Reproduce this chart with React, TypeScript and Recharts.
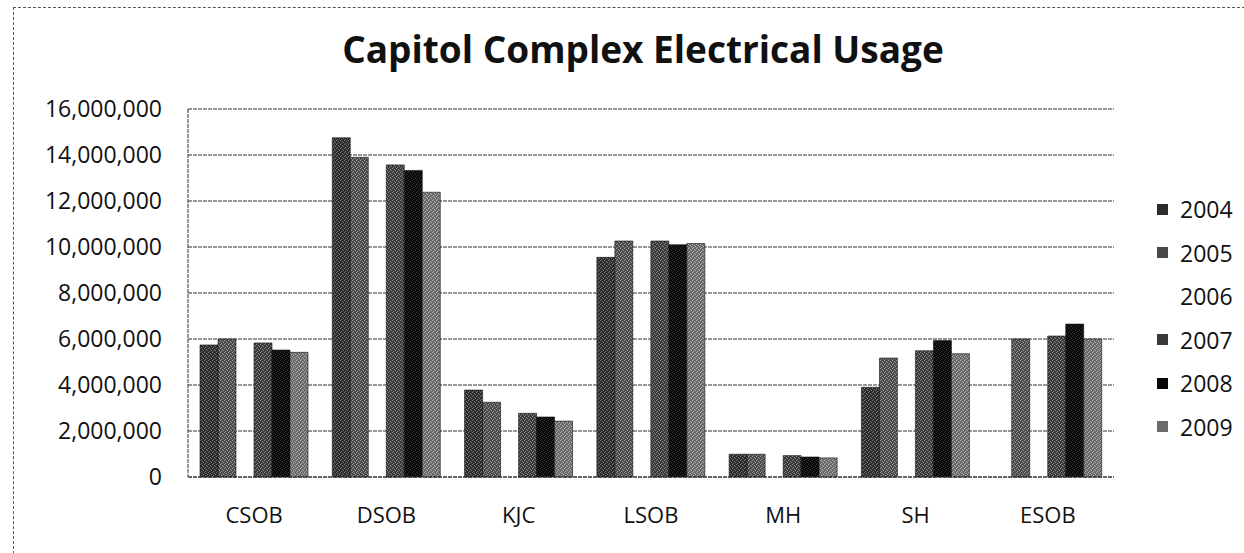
import { Bar, BarChart, CartesianGrid, XAxis, YAxis } from "recharts"

const buildings = ["CSOB", "DSOB", "KJC", "LSOB", "MH", "SH", "ESOB"]

const usage2004 = [5740000, 14750000, 3780000, 9550000, 990000, 3900000, null]
const usage2005 = [6000000, 13900000, 3250000, 10260000, 990000, 5170000, 6000000]
const usage2006 = [null, null, null, null, null, null, null]
const usage2007 = [5830000, 13570000, 2770000, 10260000, 930000, 5490000, 6130000]
const usage2008 = [5520000, 13330000, 2610000, 10100000, 870000, 5930000, 6650000]
const usage2009 = [5420000, 12380000, 2430000, 10150000, 830000, 5360000, 6000000]

const years = ["2004", "2005", "2006", "2007", "2008", "2009"]
const yTicks = [0, 2000000, 4000000, 6000000, 8000000, 10000000, 12000000, 14000000, 16000000]

const seriesValues = [usage2004, usage2005, usage2006, usage2007, usage2008, usage2009]
// base tone + speckle tone for the scanned, grainy look
const baseColors = ["#2c2c2c", "#4a4a4a", "#ffffff", "#3a3a3a", "#080808", "#6a6a6a"]
const speckColors = ["#777", "#999", "#ffffff", "#888", "#333", "#b0b0b0"]

const data = buildings.map((name, i) => {
  const row: Record<string, string | number | null> = { name }
  years.forEach((y, k) => {
    row[y] = seriesValues[k][i]
  })
  return row
})

const font = "'Open Sans', sans-serif"

export default function App() {
  return (
    <div
      style={{
        position: "absolute",
        left: 0,
        top: 0,
        width: 1244,
        height: 553,
        overflow: "hidden",
        background: "white",
        fontFamily: font,
      }}
    >
      <div
        style={{
          position: "absolute",
          left: 13,
          top: 7,
          width: 1300,
          height: 600,
          border: "1px dashed #555",
        }}
      />
      <div
        style={{
          position: "absolute",
          left: 0,
          width: 1286,
          top: 30,
          textAlign: "center",
          fontSize: 37,
          lineHeight: "37px",
          fontWeight: 700,
          color: "#111",
        }}
      >
        Capitol Complex Electrical Usage
      </div>
      <div style={{ position: "absolute", left: 0, top: 0 }}>
        <BarChart
          width={1244}
          height={553}
          data={data}
          margin={{ top: 109, right: 130, left: 13, bottom: 36 }}
          barCategoryGap={12}
          barGap={0}
        >
          <defs>
            {years.map((y, k) => (
              <pattern key={y} id={`grain${y}`} width={4} height={4} patternUnits="userSpaceOnUse">
                <rect width={4} height={4} fill={baseColors[k]} />
                <rect x={0} y={0} width={1} height={1} fill={speckColors[k]} />
                <rect x={2} y={1} width={1} height={1} fill={speckColors[k]} />
                <rect x={1} y={3} width={1} height={1} fill={speckColors[k]} />
                <rect x={3} y={2} width={1} height={1} fill={speckColors[k]} />
              </pattern>
            ))}
          </defs>
          <CartesianGrid vertical={false} stroke="#333" strokeDasharray="4 1" />
          <XAxis
            dataKey="name"
            height={40}
            tickLine={false}
            tickSize={6}
            tickMargin={24}
            axisLine={{ stroke: "#333", strokeDasharray: "4 1" }}
            tick={{ fontSize: 22, fill: "#111", fontFamily: font }}
          />
          <YAxis
            width={175}
            domain={[0, 16000000]}
            ticks={yTicks}
            interval={0}
            tickLine={false}
            tickSize={6}
            tickMargin={20}
            axisLine={{ stroke: "#333", strokeDasharray: "4 1" }}
            tick={{ fontSize: 23, fill: "#111", fontFamily: font }}
            tickFormatter={(v) => Number(v).toLocaleString("en-US")}
          />
          {years.map((y) => (
            <Bar key={y} dataKey={y} fill={`url(#grain${y})`} stroke="#111" strokeWidth={0.6} isAnimationActive={false} />
          ))}
        </BarChart>
      </div>
      {years.map((y, k) => (
        <div
          key={y}
          style={{
            position: "absolute",
            left: 1157,
            top: 209 + k * 43.5 - 16,
            height: 32,
            display: "flex",
            alignItems: "center",
            fontSize: 23,
            color: "#111",
          }}
        >
          <span
            style={{
              width: 11,
              height: 11,
              background: k === 2 ? "transparent" : baseColors[k],
              marginRight: 12,
              display: "inline-block",
            }}
          />
          {y}
        </div>
      ))}
    </div>
  )
}
